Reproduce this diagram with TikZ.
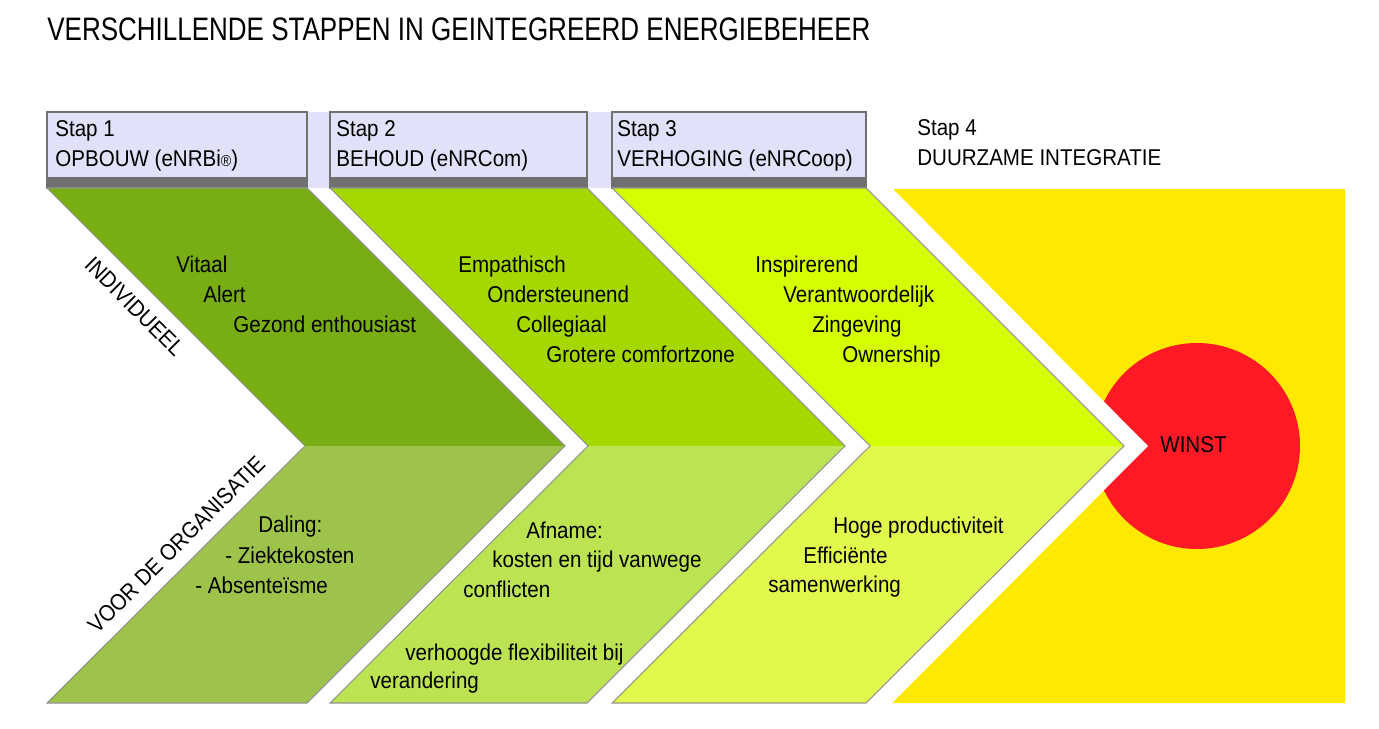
\documentclass[tikz,border=0pt]{standalone}
\usepackage{fontspec}
\setmainfont[FakeStretch=0.9]{Liberation Sans}
\newfontfamily\titlefont[FakeStretch=0.8]{Liberation Sans}
\usetikzlibrary{positioning}
\definecolor{lavband}{HTML}{E1E1F9}
\definecolor{bargray}{HTML}{707070}
\definecolor{grnone}{HTML}{78AD14}
\definecolor{grnonelt}{HTML}{9DC34A}
\definecolor{grntwo}{HTML}{A4D800}
\definecolor{grntwolt}{HTML}{BCE452}
\definecolor{grnthree}{HTML}{D4FF00}
\definecolor{grnthreelt}{HTML}{E3F84C}
\definecolor{winyellow}{HTML}{FFE900}
\definecolor{winred}{HTML}{FF1A25}

\begin{document}
\begin{tikzpicture}[x=0.02cm, y=-0.02cm,
  stapbox/.style={fill=lavband, draw=bargray, line width=1pt},
  stapbar/.style={fill=bargray},
  chevline/.style={draw=gray!85, line width=0.6pt},
  lbl/.style={anchor=base west, inner sep=0pt, font=\fontsize{13}{13}\selectfont},
  sidelbl/.style={anchor=base, inner sep=0pt, font=\fontsize{13}{13}\selectfont}
]

% Background
\useasboundingbox[fill=white] (0,0) rectangle (1379,729);

% Title
\node[anchor=base west, inner sep=0pt, font=\titlefont\fontsize{18.5}{18.5}\selectfont] (title) at (47,41)
  {VERSCHILLENDE STAPPEN IN GEINTEGREERD ENERGIEBEHEER};

% Stap headers
\fill[lavband] (47,112) rectangle (866,188);
\draw[stapbox] (47,112) rectangle (307,188);
\fill[stapbar] (47,177) rectangle (307,188);
\draw[stapbox] (330,112) rectangle (587,188);
\fill[stapbar] (330,177) rectangle (587,188);
\draw[stapbox] (612,112) rectangle (866,188);
\fill[stapbar] (612,177) rectangle (866,188);

\node[lbl] (stap1) at (55,137) {Stap 1};
\node[lbl] (opbouw) at (55,167) {OPBOUW (eNRBi{\fontsize{9}{9}\selectfont ®})};
\node[lbl] (stap2) at (336,137) {Stap 2};
\node[lbl] (behoud) at (336,167) {BEHOUD (eNRCom)};
\node[lbl] (stap3) at (617,137) {Stap 3};
\node[lbl] (verhoging) at (617,167) {VERHOGING (eNRCoop)};
\node[lbl] (stap4) at (917,136) {Stap 4};
\node[lbl] (duurzaam) at (917,166) {DUURZAME INTEGRATIE};

% Stap 4 field with winst
\fill[winyellow] (892,189) -- (1345,189) -- (1345,703) -- (892,703) -- (1148,446) -- cycle;
\fill[winred] (1197,446) circle (103);
\fill[white] (866,188) -- (892,188) -- (1148,446) -- (892,703) -- (866,703) -- (1124,446) -- cycle;
\node[lbl] (winst) at (1160,452) {WINST};

% Chevron 1
\fill[grnone] (47,188) -- (307,188) -- (565,446) -- (305,446) -- cycle;
\fill[grnonelt] (305,446) -- (565,446) -- (307,703) -- (47,703) -- cycle;
\draw[chevline] (47,188) -- (307,188) -- (565,446) -- (307,703) -- (47,703) -- (305,446) -- cycle;

% Chevron 2
\fill[grntwo] (330,188) -- (587,188) -- (845,446) -- (588,446) -- cycle;
\fill[grntwolt] (588,446) -- (845,446) -- (587,703) -- (330,703) -- cycle;
\draw[chevline] (330,188) -- (587,188) -- (845,446) -- (587,703) -- (330,703) -- (588,446) -- cycle;

% Chevron 3
\fill[grnthree] (612,188) -- (866,188) -- (1124,446) -- (870,446) -- cycle;
\fill[grnthreelt] (870,446) -- (1124,446) -- (866,703) -- (612,703) -- cycle;
\draw[chevline] (612,188) -- (866,188) -- (1124,446) -- (866,703) -- (612,703) -- (870,446) -- cycle;

% Side labels
\node[sidelbl, rotate=-45] (individueel) at (129,312) {INDIVIDUEEL};
\node[sidelbl, rotate=45] (organisatie) at (182,550) {VOOR DE ORGANISATIE};

% Individueel
\node[lbl] (vitaal) at (176,273) {Vitaal};
\node[lbl] (alert) at (203,303) {Alert};
\node[lbl] (gezond) at (233,333) {Gezond enthousiast};
\node[lbl] (empathisch) at (458,273) {Empathisch};
\node[lbl] (ondersteunend) at (487,303) {Ondersteunend};
\node[lbl] (collegiaal) at (516,333) {Collegiaal};
\node[lbl] (comfortzone) at (546,362) {Grotere comfortzone};
\node[lbl] (inspirerend) at (755,273) {Inspirerend};
\node[lbl] (verantwoordelijk) at (783,303) {Verantwoordelijk};
\node[lbl] (zingeving) at (812,333) {Zingeving};
\node[lbl] (ownership) at (842,362) {Ownership};

% Voor de organisatie
\node[lbl] (daling) at (258,532) {Daling:};
\node[lbl] (ziekte) at (225,563) {- Ziektekosten};
\node[lbl] (absent) at (195,593) {- Absenteïsme};
\node[lbl] (afname) at (526,538) {Afname:};
\node[lbl] (kosten) at (492,567) {kosten en tijd vanwege};
\node[lbl] (conflicten) at (463,597) {conflicten};
\node[lbl] (flexibel) at (405,660) {verhoogde flexibiliteit bij};
\node[lbl] (verandering) at (370,688) {verandering};
\node[lbl] (hoge) at (833,533) {Hoge productiviteit};
\node[lbl] (efficient) at (803,563) {Efficiënte};
\node[lbl] (samenwerking) at (768,592) {samenwerking};

\end{tikzpicture}
\end{document}
